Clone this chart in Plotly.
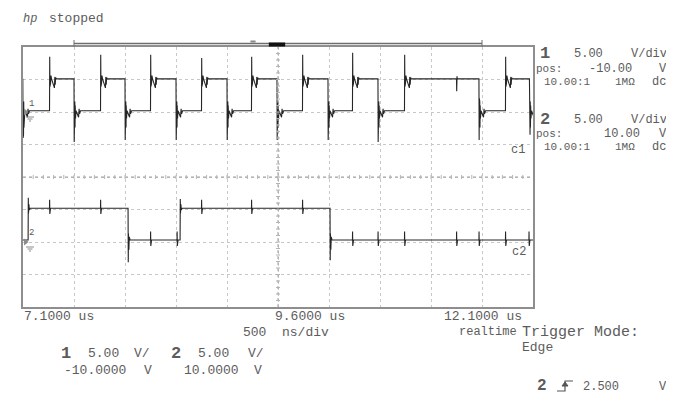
import plotly.graph_objects as go

# ---------------- data ----------------
T_START, T_END = 7.1, 12.1           # us, 500 ns/div
T_CENTER = 9.6
CH1_SCALE, CH1_POS = 5.0, -10.0      # V/div, V at screen centre
CH2_SCALE, CH2_POS = 5.0, 10.0

# channel 1 : square wave 0 -> 5 V with ringing at every edge
ch1_rise = [7.36, 7.86, 8.35, 8.85, 9.34, 9.84, 10.33, 10.84, 11.83]
ch1_rise_peak = [8.5, 8.8, 8.8, 8.3, 8.5, 8.8, 9.1, 8.8, 8.5]
ch1_fall = [7.099, 7.60, 8.10, 8.60, 9.10, 9.59, 10.09, 10.58, 11.57, 12.065]
ch1_fall_dip = [-4.0, -4.6, -4.3, -4.3, -4.3, -4.3, -4.3, -4.6, -4.3, -3.4]
ch1_glitch = [11.35]
ch1_low, ch1_high = 0.2, 5.1

# channel 2 : slower control signal 0 -> 5 V with cross-talk spikes
ch2_rise = [7.15, 8.64]
ch2_rise_peak = [6.8, 6.6]
ch2_fall = [8.13, 10.11]
ch2_fall_dip = [-3.1, -2.8]
ch2_xtalk = [7.36, 7.86, 8.35, 8.61, 8.85, 9.34, 9.84, 10.33, 10.58,
             10.84, 11.35, 11.57, 11.83, 12.06]
ch2_low, ch2_high = 0.3, 5.2

# ringing shapes observed after the edges (time offset us, volts rel. to new level)
RISE1_DT = [0.004, 0.007, 0.010, 0.014, 0.020, 0.048, 0.052, 0.056, 0.060, 0.066]
RISE1_REL = [-1.2, 1.4, -0.7, 0.5, 0.0, -1.4, 0.3, -0.9, 0.2, 0.0]
FALL1_DT = [0.004, 0.006, 0.008, 0.010, 0.012, 0.015, 0.020, 0.045, 0.050, 0.055, 0.065]
FALL1_REL = [1.9, -3.7, 1.4, -2.6, 0.8, -1.2, 0.0, -1.0, 0.3, -0.5, 0.0]
RISE2_DT = [0.004, 0.008, 0.012, 0.02]
RISE2_REL = [-0.8, 0.6, -0.3, 0.0]
FALL2_DT = [0.004, 0.008, 0.012, 0.02]
FALL2_REL = [1.0, -1.5, 0.5, 0.0]
XT_DT = [0.001, 0.003, 0.005, 0.007, 0.010]
XT_REL = [1.3, -0.9, 0.7, -0.4, 0.0]
GL_DT = [0.002, 0.005, 0.008]
GL_REL = [-1.9, 0.4, 0.0]


def build(level0, low, high, rises, peaks, falls, dips, rdt, rrel, fdt, frel, spikes, sdt, srel):
    events = [(t, 'r', p) for t, p in zip(rises, peaks)]
    events += [(t, 'f', d) for t, d in zip(falls, dips)]
    events += [(t, 's', None) for t in spikes]
    events.sort(key=lambda e: e[0])
    ts, vs = [T_START if events[0][0] > T_START else events[0][0] - 0.001], [level0]
    level = level0
    for t, kind, p in events:
        ts.append(t); vs.append(level)
        if kind == 'r':
            level = high
            ts.append(t + 0.002); vs.append(p)
            dts, rel = rdt, rrel
        elif kind == 'f':
            level = low
            ts.append(t + 0.002); vs.append(p)
            dts, rel = fdt, frel
        else:
            dts, rel = sdt, srel
        for d, r in zip(dts, rel):
            ts.append(t + d); vs.append(level + r)
    ts.append(T_END); vs.append(level)
    return ts, vs


t1, v1 = build(ch1_high, ch1_low, ch1_high, ch1_rise, ch1_rise_peak, ch1_fall, ch1_fall_dip,
               RISE1_DT, RISE1_REL, FALL1_DT, FALL1_REL, ch1_glitch, GL_DT, GL_REL)
t2, v2 = build(ch2_low, ch2_low, ch2_high, ch2_rise, ch2_rise_peak, ch2_fall, ch2_fall_dip,
               RISE2_DT, RISE2_REL, FALL2_DT, FALL2_REL, ch2_xtalk, XT_DT, XT_REL)

# ---------------- figure ----------------
# the page body has an 8 px margin, so the figure is drawn smaller and
# all positions below are given in screenshot pixels and shifted by OFF.
OFF = 8
W, H = 674 - OFF, 403 - 2 * OFF
L, R, T, B = 23, 533, 47, 307        # graticule box in screenshot pixels


def px(x):
    return (x - L) / (R - L)


def py(y):
    return (B - y) / (B - T)


TXT = '#5c5c5c'
FONT = 'Liberation Mono'

fig = go.Figure()
fig.add_trace(go.Scatter(x=t1, y=v1, mode='lines', yaxis='y',
                         line=dict(color='#262626', width=1.1), hoverinfo='skip'))
fig.add_trace(go.Scatter(x=t2, y=v2, mode='lines', yaxis='y2',
                         line=dict(color='#262626', width=1.1), hoverinfo='skip'))
# ground reference markers (0 V of each channel)
fig.add_trace(go.Scatter(x=[T_START + 0.025], y=[0], mode='markers', yaxis='y',
                         marker=dict(symbol='triangle-right', size=6, color='#8a8a8a'),
                         hoverinfo='skip'))
fig.add_trace(go.Scatter(x=[T_START + 0.025], y=[0], mode='markers', yaxis='y2',
                         marker=dict(symbol='triangle-right', size=6, color='#8a8a8a'),
                         hoverinfo='skip'))

ch1_rng = [CH1_POS - 4 * CH1_SCALE, CH1_POS + 4 * CH1_SCALE]
ch2_rng = [CH2_POS - 4 * CH2_SCALE, CH2_POS + 4 * CH2_SCALE]
grid = dict(showgrid=True, gridcolor='#c8c8c8', griddash='dot', gridwidth=1,
            showticklabels=False, zeroline=False, ticks='')
fig.update_layout(
    width=W, height=H, margin=dict(l=L - OFF, r=W - (R - OFF), t=T - OFF, b=H - (B - OFF)),
    paper_bgcolor='white', plot_bgcolor='white', showlegend=False,
    xaxis=dict(range=[T_START, T_END], tick0=T_START, dtick=0.5,
               showline=True, linecolor='#8e8e8e', linewidth=1.5, mirror=True, **grid),
    yaxis=dict(range=ch1_rng, tick0=ch1_rng[0], dtick=CH1_SCALE,
               showline=True, linecolor='#8e8e8e', linewidth=1.5, mirror=True, **grid),
    yaxis2=dict(range=ch2_rng, overlaying='y', visible=False),
)

shapes = []
# centre graticule lines with minor ticks
shapes.append(dict(type='line', xref='x', yref='y', x0=T_START, x1=T_END, y0=CH1_POS, y1=CH1_POS,
                   line=dict(color='#a0a0a0', width=1, dash='dot')))
shapes.append(dict(type='line', xref='x', yref='y', x0=T_CENTER, x1=T_CENTER, y0=ch1_rng[0], y1=ch1_rng[1],
                   line=dict(color='#a0a0a0', width=1, dash='dot')))
xs_per_px = (T_END - T_START) / (R - L)
ys_per_px = (ch1_rng[1] - ch1_rng[0]) / (B - T)
for k in range(1, 50):
    tx = T_START + k * 0.1
    shapes.append(dict(type='line', xref='x', yref='y', x0=tx, x1=tx,
                       y0=CH1_POS - 2 * ys_per_px, y1=CH1_POS + 2 * ys_per_px,
                       line=dict(color='#b4b4b4', width=1)))
for k in range(1, 40):
    vy = ch1_rng[0] + k * 1.0
    shapes.append(dict(type='line', xref='x', yref='y', x0=T_CENTER - 2 * xs_per_px,
                       x1=T_CENTER + 2 * xs_per_px, y0=vy, y1=vy,
                       line=dict(color='#b4b4b4', width=1)))

# memory bar above the graticule
bar_t0, bar_t1 = 7.6, 11.6
shapes.append(dict(type='line', xref='x', yref='paper', x0=bar_t0, x1=bar_t1, y0=py(43.5), y1=py(43.5),
                   line=dict(color='#6e6e6e', width=1.5)))
for bt in (bar_t0, bar_t1):
    shapes.append(dict(type='line', xref='x', yref='paper', x0=bt, x1=bt, y0=py(40), y1=py(47),
                       line=dict(color='#6e6e6e', width=1)))
shapes.append(dict(type='line', xref='x', yref='paper', x0=9.51, x1=9.67, y0=py(44.5), y1=py(44.5),
                   line=dict(color='#111111', width=4)))
shapes.append(dict(type='line', xref='x', yref='paper', x0=9.33, x1=9.38, y0=py(41.5), y1=py(41.5),
                   line=dict(color='#888888', width=2)))

# ground symbols under the channel markers
for gy in (117, 247):
    for i, half in enumerate((4, 2.5, 1)):
        yy = gy + 2 * i
        shapes.append(dict(type='line', xref='paper', yref='paper', x0=px(30 - half), x1=px(30 + half),
                           y0=py(yy), y1=py(yy), line=dict(color='#8a8a8a', width=1)))

# trigger edge symbol
TRIG_Y = 386
shapes.append(dict(type='path', xref='paper', yref='paper',
                   path='M {} {} L {} {} L {} {} L {} {}'.format(px(557), py(TRIG_Y + 5), px(565), py(TRIG_Y + 5),
                                                                 px(565), py(TRIG_Y - 5), px(573), py(TRIG_Y - 5)),
                   line=dict(color='#555555', width=1.2)))
shapes.append(dict(type='path', xref='paper', yref='paper',
                   path='M {} {} L {} {} L {} {} Z'.format(px(562), py(TRIG_Y), px(568), py(TRIG_Y),
                                                            px(565), py(TRIG_Y - 4)),
                   line=dict(color='#555555', width=1), fillcolor='#555555'))
fig.update_layout(shapes=shapes)

texts = [
    ('<i>hp</i>', 21, 19, 12, False),
    ('stopped', 47, 19, 13, False),
    ('1', 538, 53, 17, True), ('5.00', 572, 54, 12, False), ('V/div', 629, 54, 12, False),
    ('pos:', 534, 69, 11, False), ('-10.00', 587, 69, 12, False), ('V', 657, 69, 12, False),
    ('10.00:1', 542, 82, 11, False), ('1MΩ', 613, 82, 11, False), ('dc', 650, 82, 12, False),
    ('2', 538, 119, 17, True), ('5.00', 572, 120, 12, False), ('V/div', 629, 120, 12, False),
    ('pos:', 534, 134, 11, False), ('10.00', 602, 134, 12, False), ('V', 657, 134, 12, False),
    ('10.00:1', 542, 147, 11, False), ('1MΩ', 613, 147, 11, False), ('dc', 650, 147, 12, False),
    ('c1', 509, 150, 12, False), ('c2', 510, 252, 12, False),
    ('1', 27, 104, 9, False), ('2', 27, 233, 9, False),
    ('7.1000 us', 22, 316, 13, False), ('9.6000 us', 273, 316, 13, False),
    ('12.1000 us', 442, 316, 13, False),
    ('500', 241, 332, 13, False), ('ns/div', 280, 332, 13, False),
    ('realtime', 457, 332, 12, False), ('Trigger Mode:', 520, 332, 15, False),
    ('Edge', 520, 347, 13, False),
    ('1', 59, 353, 17, True), ('5.00', 86, 353, 13, False), ('V/', 132, 353, 13, False),
    ('2', 169, 353, 17, True), ('5.00', 196, 353, 13, False), ('V/', 246, 353, 13, False),
    ('-10.0000', 62, 370, 13, False), ('V', 142, 370, 13, False),
    ('10.0000', 182, 370, 13, False), ('V', 252, 370, 13, False),
    ('2', 535, TRIG_Y, 16, True), ('2.500', 581, TRIG_Y + 1, 12, False), ('V', 657, TRIG_Y + 1, 12, False),
]
anns = []
for s, x, y, size, bold in texts:
    anns.append(dict(text='<b>{}</b>'.format(s) if bold else s, x=px(x), y=py(y),
                     xref='paper', yref='paper', xanchor='left', yanchor='middle',
                     showarrow=False, font=dict(family=FONT, size=size, color=TXT)))
fig.update_layout(annotations=anns)

fig.write_html('out.html')
